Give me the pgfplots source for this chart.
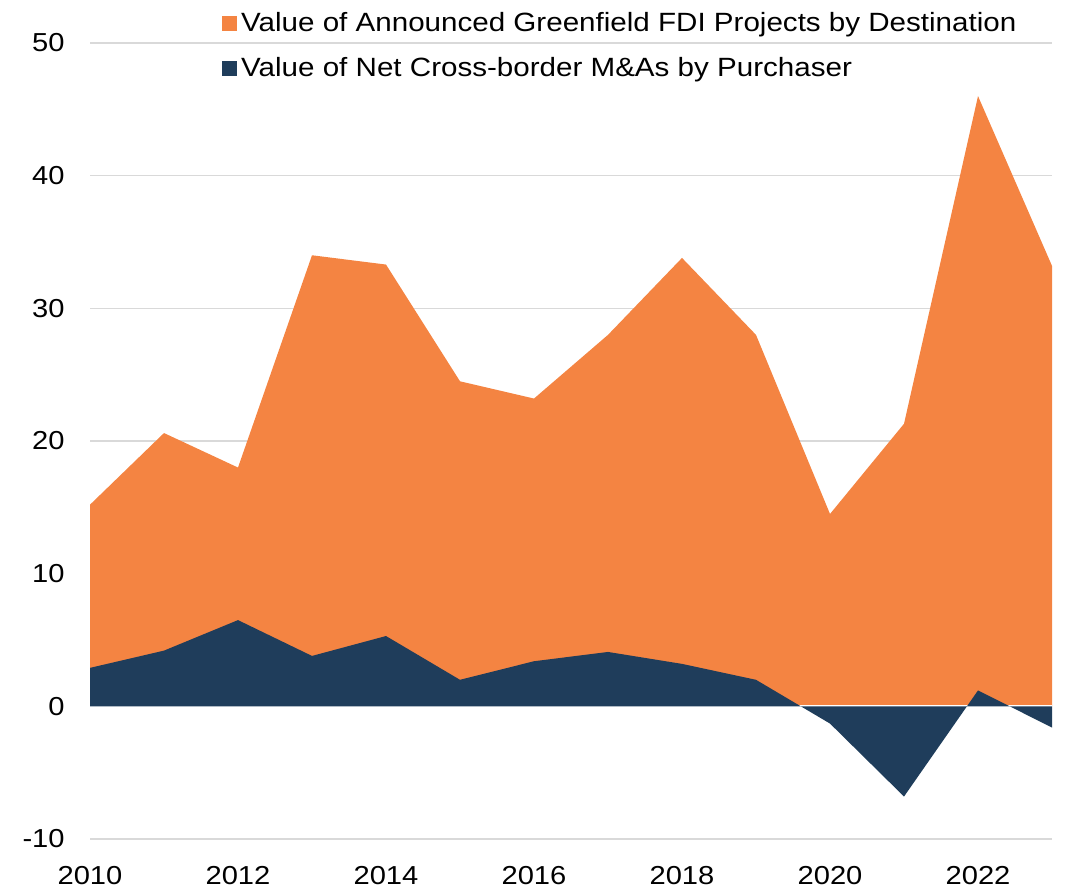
\documentclass[border=0pt]{standalone}
\usepackage{pgfplots}
\pgfplotsset{compat=1.18}
\usepackage{fontspec}
\setmainfont[FakeStretch=1.12]{Liberation Sans}
\definecolor{fdiorange}{RGB}{244,132,66}
\definecolor{manavy}{RGB}{31,61,91}
\definecolor{gridgray}{RGB}{217,217,217}
\begin{document}
\begin{tikzpicture}
\begin{axis}[
  at={(0,0)}, anchor=south west,
  scale only axis, width=481pt, height=398pt,
  xmin=2010, xmax=2023, ymin=-10, ymax=50,
  xtick={2010,2012,...,2022},
  ytick={-10,0,...,50},
  axis line style={draw=none},
  major tick length=0pt,
  ymajorgrids, grid style={gridgray, line width=0.8pt},
  /pgf/number format/assume math mode=true,
  /pgf/number format/1000 sep={},
  tick label style={font=\fontsize{13}{15}\selectfont},
  yticklabel style={anchor=east, inner sep=0pt, xshift=-12.5pt},
  xticklabel style={anchor=north, inner sep=0pt, yshift=-13.5pt},
  legend style={at={(axis description cs:0.137,1.044)}, anchor=north west,
    draw=none, fill=none, inner sep=0pt, row sep=7.5pt,
    font=\fontsize{13.2}{15}\selectfont, cells={anchor=west}},
  legend image code/.code={\fill[#1] (0pt,-3.75pt) rectangle (7.5pt,3.75pt);},
  clip=false,
]
\addplot[fill=fdiorange, draw=none] coordinates {
 (2010,0) (2010,15.2) (2011,20.6) (2012,18.0) (2013,34.0) (2014,33.3)
 (2015,24.5) (2016,23.2) (2017,28.0) (2018,33.8) (2019,28.0)
 (2020,14.5) (2021,21.3) (2022,46.0) (2023,33.2) (2023,0)} -- cycle;
\addlegendentry{Value of Announced Greenfield FDI Projects by Destination}
\addplot[white, line width=0.85pt, forget plot] coordinates {(2010,0) (2023,0)};
\addplot[fill=manavy, draw=none] coordinates {
 (2010,0) (2010,2.9) (2011,4.2) (2012,6.5) (2013,3.8) (2014,5.3)
 (2015,2.0) (2016,3.4) (2017,4.1) (2018,3.2) (2019,2.0)
 (2020,-1.3) (2021,-6.8) (2022,1.2) (2023,-1.6) (2023,0)} -- cycle;
\addlegendentry{Value of Net Cross-border M\&As by Purchaser}
\end{axis}
\pgfresetboundingbox
\path (-45pt,-25pt) rectangle (492pt,419.5pt);
\end{tikzpicture}
\end{document}
